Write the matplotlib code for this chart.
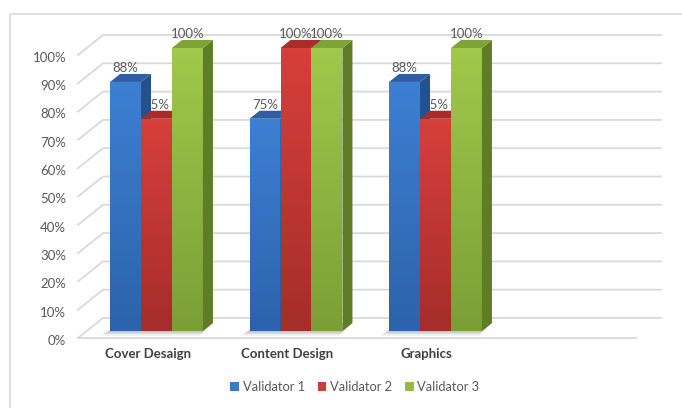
import matplotlib
matplotlib.use("Agg")
import matplotlib.pyplot as plt
import numpy as np
from matplotlib.patches import Polygon, Patch
from matplotlib.colors import LinearSegmentedColormap

# ---------------- data ----------------
categories = ["Cover Desaign", "Content Design", "Graphics"]
series_names = ["Validator 1", "Validator 2", "Validator 3"]
validator1 = [88, 75, 88]
validator2 = [75, 100, 75]
validator3 = [100, 100, 100]
y_ticks = [0, 10, 20, 30, 40, 50, 60, 70, 80, 90, 100]
n_slots = 4  # the category axis has room for four groups

# ---------------- style ----------------
FONT = ["Lato", "DejaVu Sans"]
plt.rcParams["font.family"] = FONT
colors = {
    # (front top, front bottom, side, top)
    "Validator 1": ("#3d7fd3", "#2c63aa", "#24508d", "#2f5fa3"),
    "Validator 2": ("#d63f3b", "#a52d2a", "#8a2321", "#a92c29"),
    "Validator 3": ("#a0c84a", "#7b9f36", "#5f7d27", "#7fa337"),
}
legend_sq = {"Validator 1": "#3a78c9", "Validator 2": "#d03a37", "Validator 3": "#93bb3f"}
grid_col = "#d9d9d9"
text_col = "#595959"

W, H, DPI = 682, 408, 100
fig = plt.figure(figsize=(W / DPI, H / DPI), dpi=DPI)
ax = fig.add_axes([0, 0, 1, 1])
ax.axis("off")

# pixel scale of the front plane
SX = 139.5       # px per category slot
SY = 2.83        # px per percent
LEFT_PX = 78     # front plane left edge (px from left)
BASE_PX = 338    # front plane 0% (px from top)
x_lo = -0.5
x_hi = x_lo + n_slots
XLIM = (x_lo - LEFT_PX / SX, x_lo + (W - LEFT_PX) / SX)
YLIM = (-(H - BASE_PX) / SY, BASE_PX / SY)
ax.set_xlim(*XLIM)
ax.set_ylim(*YLIM)

# depth offset of the back wall (in data units)
DX = 25 / SX
DY = 20 / SY

# chart border (left and top)
bx = x_lo - (LEFT_PX - 10) / SX
by = BASE_PX / SY - 14 / SY
ax.plot([bx, bx], [by, YLIM[0]], color="#d9d9d9", lw=1.2, zorder=1, solid_capstyle="butt")
ax.plot([bx, XLIM[1]], [by, by], color="#d9d9d9", lw=1.2, zorder=1, solid_capstyle="butt")

# gridlines (3D: diagonal side wall + back wall)
for v in y_ticks:
    ax.plot([x_lo, x_lo + DX, x_hi + DX], [v, v + DY, v + DY], color=grid_col, lw=1.3, zorder=2)
    ax.text(x_lo - 12 / SX, v - 1.0, f"{v}%", ha="right", va="center",
            fontsize=9.5, color=text_col, zorder=3)
# floor front edge
ax.plot([x_lo, x_hi], [0, 0], color=grid_col, lw=1.3, zorder=2)

# bars
F0, F1 = 0.35, 0.75           # depth fractions of bar front/back
bar_w = 0.222
values = [validator1, validator2, validator3]
z = 10
for ci, cat in enumerate(categories):
    cx = ci + F0 * DX
    base = F0 * DY
    ddx = (F1 - F0) * DX
    ddy = (F1 - F0) * DY
    # floor shadow
    gx0 = cx - 1.5 * bar_w
    gx1 = cx + 1.5 * bar_w
    for k, a in enumerate([0.10, 0.08, 0.06]):
        off = (k + 1) * 0.022
        shadow = Polygon([(gx0 - off, base - off * 25), (gx1 - off * 0.3, base - off * 25),
                          (gx1 + ddx, base + ddy), (gx0 + ddx, base + ddy)],
                         closed=True, facecolor="#000000", alpha=a, lw=0, zorder=4)
        ax.add_patch(shadow)
    for si, name in enumerate(series_names):
        val = values[si][ci]
        x0 = cx + (si - 1.5) * bar_w
        x1 = x0 + bar_w
        top = base + val
        ftop, fbot, cside, ctop = colors[name]
        # front face with vertical gradient
        front = Polygon([(x0, base), (x1, base), (x1, top), (x0, top)], closed=True,
                        facecolor="none", lw=0, zorder=z)
        ax.add_patch(front)
        cmap = LinearSegmentedColormap.from_list("g", [fbot, ftop])
        grad = np.linspace(0, 1, 64).reshape(-1, 1)
        im = ax.imshow(grad, cmap=cmap, origin="lower", aspect="auto",
                       extent=[x0, x1, base, top], zorder=z, interpolation="bilinear")
        im.set_clip_path(front)
        # side face
        side = Polygon([(x1, base), (x1 + ddx, base + ddy), (x1 + ddx, top + ddy), (x1, top)],
                       closed=True, facecolor=cside, lw=0, zorder=z + 0.1)
        ax.add_patch(side)
        # top face
        topf = Polygon([(x0, top), (x1, top), (x1 + ddx, top + ddy), (x0 + ddx, top + ddy)],
                       closed=True, facecolor=ctop, lw=0, zorder=z + 0.2)
        ax.add_patch(topf)
        # data label (drawn behind the bars)
        ax.text((x0 + x1) / 2, top + 14 / SY, f"{val}%", ha="center", va="center",
                fontsize=9.5, color=text_col, zorder=5)
        z += 1

# restore limits (imshow may alter them)
ax.set_xlim(*XLIM)
ax.set_ylim(*YLIM)

# category labels
for ci, cat in enumerate(categories):
    ax.text(ci, -16 / SY, cat, ha="center", va="center", fontsize=9.5,
            fontweight="bold", color="#404040", zorder=30)

# legend
handles = [Patch(facecolor=legend_sq[n], edgecolor="none") for n in series_names]
leg = fig.legend(handles, series_names, loc="center", bbox_to_anchor=(355 / W, 1 - 387 / H),
                 ncol=3, frameon=False, fontsize=9.3, handlelength=0.65, handleheight=0.65,
                 handletextpad=0.3, columnspacing=1.0, labelcolor=text_col)

fig.savefig("out.png", dpi=DPI)
